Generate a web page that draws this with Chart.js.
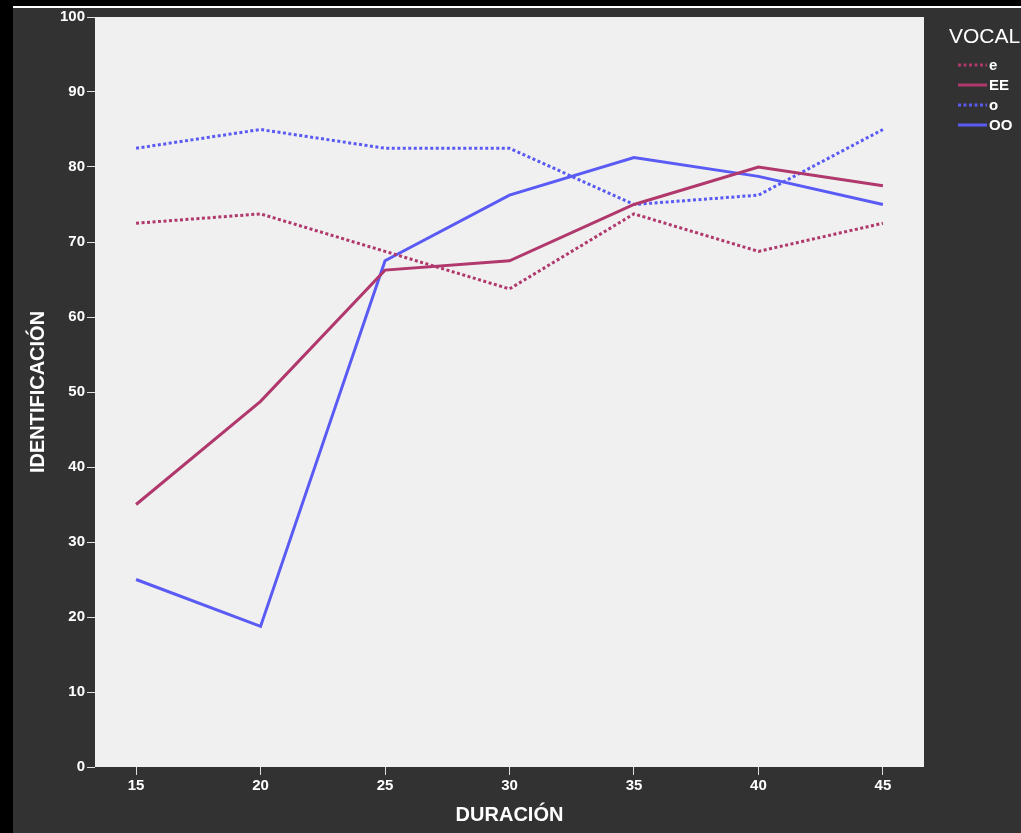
<!DOCTYPE html>
<html><head><meta charset="utf-8">
<script src="https://cdn.jsdelivr.net/npm/chart.js@4/dist/chart.umd.min.js"></script>
<style>html,body{margin:0;padding:0;background:#000;overflow:hidden}
#wrap{position:absolute;left:0;top:0;width:1021px;height:833px}</style>
</head><body><div id="wrap"><canvas id="c" width="1021" height="833"></canvas></div>
<script>
const durations = [15, 20, 25, 30, 35, 40, 45];
const yTicks = [0, 10, 20, 30, 40, 50, 60, 70, 80, 90, 100];
const seriesNames = ['e', 'EE', 'o', 'OO'];
const eValues  = [72.5, 73.75, 68.75, 63.75, 73.75, 68.75, 72.5];
const EEValues = [35, 48.75, 66.25, 67.5, 75, 80, 77.5];
const oValues  = [82.5, 85, 82.5, 82.5, 75, 76.25, 85];
const OOValues = [25, 18.75, 67.5, 76.25, 81.25, 78.75, 75];

const MAG = '#b0386c', BLUE = '#5a5af5';
const FONT = '"Liberation Sans", Arial, sans-serif';
function pts(vals){ return durations.map((d,i)=>({x:d,y:vals[i]})); }
function ds(label, vals, color, dashed){
  return {label, data: pts(vals), borderColor: color, backgroundColor: color,
    borderWidth: 3, borderDash: dashed ? [3,2.5] : [], pointRadius: 0, tension: 0, fill: false};
}

const bgPlugin = {
  id: 'bg',
  beforeDraw(chart){
    const {ctx, chartArea:a} = chart;
    ctx.save();
    ctx.fillStyle = '#000'; ctx.fillRect(0,0,chart.width,chart.height);
    ctx.fillStyle = '#fff'; ctx.fillRect(13,6,chart.width-13,2);
    ctx.fillStyle = '#323232'; ctx.fillRect(13,8,chart.width-13,chart.height-8);
    ctx.fillStyle = '#f0f0f0'; ctx.fillRect(a.left,a.top,a.right-a.left,a.bottom-a.top);
    ctx.restore();
  },
  afterDraw(chart){
    const ctx = chart.ctx;
    ctx.save();
    ctx.fillStyle = '#fff';
    ctx.font = '21px ' + FONT;
    ctx.textBaseline = 'middle'; ctx.textAlign = 'left';
    ctx.fillText('VOCAL', 949, 37);
    ctx.font = 'bold 15px ' + FONT;
    chart.data.datasets.forEach((d,i)=>{
      const y = 65 + i*20;
      ctx.strokeStyle = d.borderColor; ctx.lineWidth = 3;
      ctx.setLineDash(d.borderDash);
      ctx.beginPath(); ctx.moveTo(958,y); ctx.lineTo(987,y); ctx.stroke();
      ctx.setLineDash([]);
      ctx.fillStyle = '#fff';
      ctx.fillText(d.label, 989, y+1);
    });
    ctx.restore();
  }
};

new Chart(document.getElementById('c'), {
  type: 'line',
  data: { datasets: [
    ds(seriesNames[0], eValues, MAG, true),
    ds(seriesNames[1], EEValues, MAG, false),
    ds(seriesNames[2], oValues, BLUE, true),
    ds(seriesNames[3], OOValues, BLUE, false)
  ]},
  options: {
    responsive: false, animation: false, devicePixelRatio: 1,
    layout: { padding: { top: 17, right: 97, left: 0, bottom: 0 } },
    plugins: { legend: { display: false }, tooltip: { enabled: false } },
    scales: {
      x: {
        type: 'linear', min: 13.35, max: 46.65,
        afterBuildTicks: s => { s.ticks = durations.map(v=>({value:v})); },
        afterFit: s => { s.height = 66; },
        grid: { drawOnChartArea: false, drawTicks: true, tickLength: 8, color: '#e0e0e0', lineWidth: 1 },
        border: { display: false },
        ticks: { color: '#fff', font: { family: FONT, size: 15, weight: 'bold' }, padding: 2, maxRotation: 0 },
        title: { display: true, text: 'DURACIÓN', color: '#fff', font: { family: FONT, size: 20, weight: 'bold' }, padding: { top: 0, bottom: 6 } }
      },
      y: {
        min: 0, max: 100,
        afterBuildTicks: s => { s.ticks = yTicks.map(v=>({value:v})); },
        afterFit: s => { s.width = 95; },
        grid: { drawOnChartArea: false, drawTicks: true, tickLength: 8, color: '#e0e0e0', lineWidth: 1 },
        border: { display: false },
        ticks: { color: '#fff', font: { family: FONT, size: 15, weight: 'bold' }, padding: 2 },
        title: { display: true, text: 'IDENTIFICACIÓN', color: '#fff', font: { family: FONT, size: 20, weight: 'bold' }, padding: { top: 26, bottom: 0 } }
      }
    }
  },
  plugins: [bgPlugin]
});
</script></body></html>
